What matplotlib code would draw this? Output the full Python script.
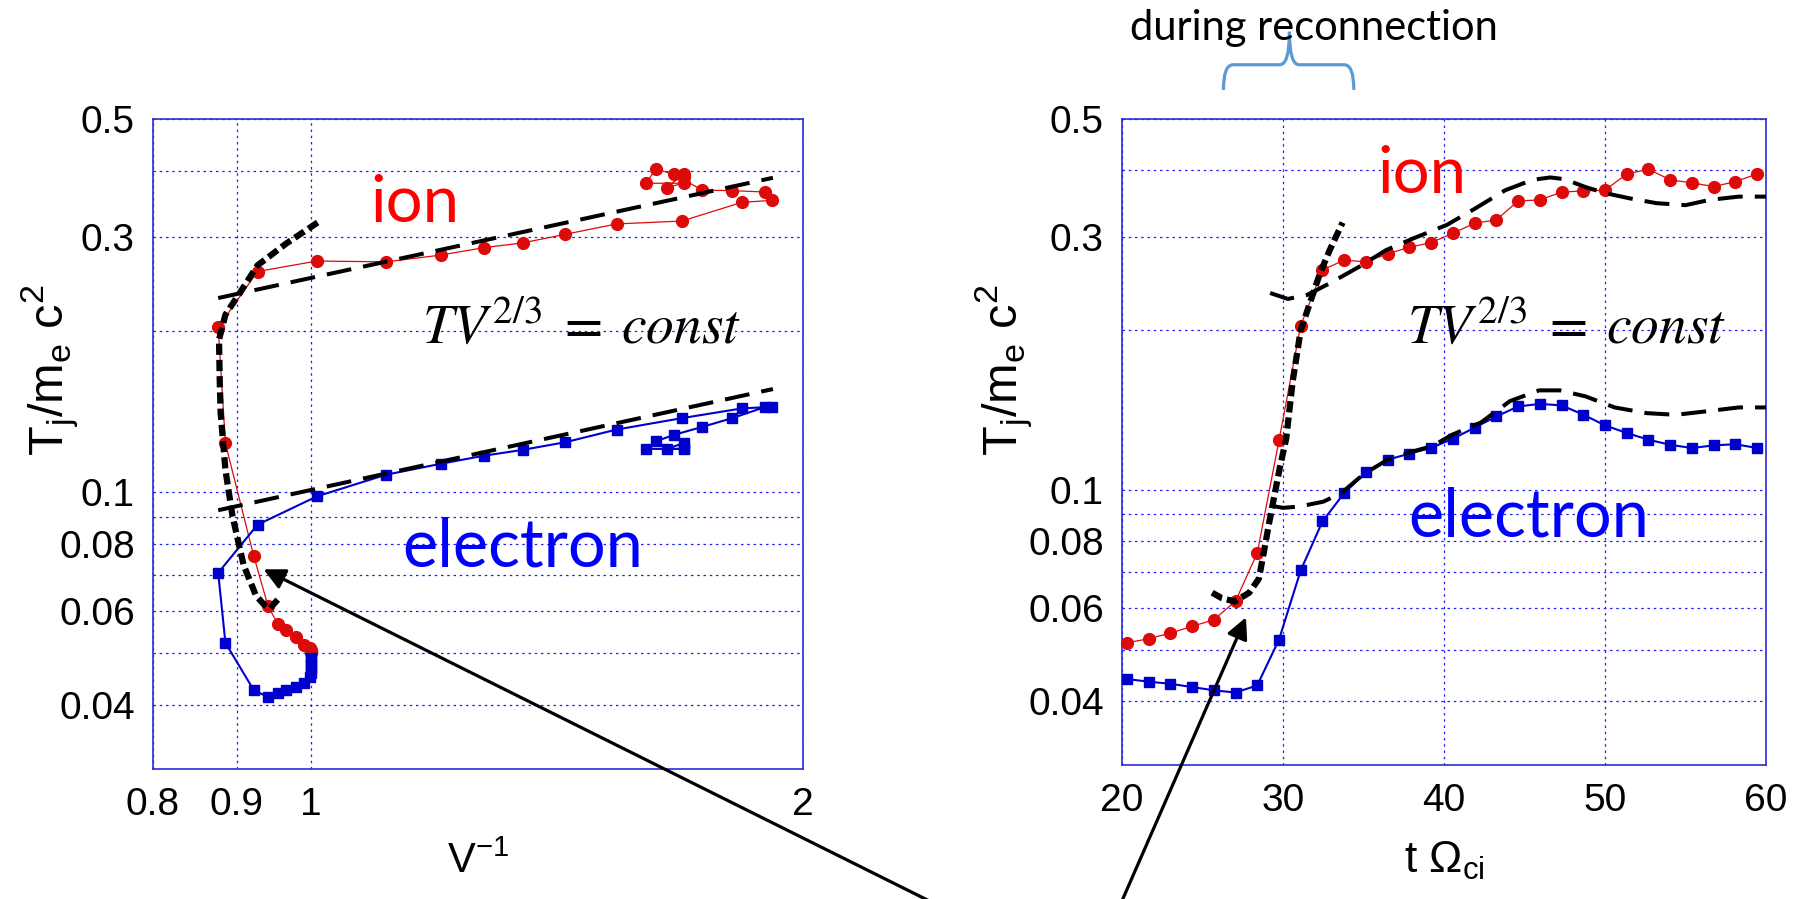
import numpy as np
import matplotlib
matplotlib.use("Agg")
import matplotlib.pyplot as plt
from matplotlib.ticker import FixedLocator, NullFormatter
from matplotlib.path import Path
from matplotlib.patches import PathPatch
import matplotlib.transforms as mtransforms

# ---- data ----
# left panel: T against V^-1 (first points sit at V^-1 = 1 before compression)
vinv = [1.0, 1.0, 1.0, 1.0, 1.0, 0.998, 0.99, 0.979, 0.965, 0.954, 0.941, 0.922,
        0.886, 0.877, 0.927, 1.008, 1.111, 1.2, 1.275, 1.347, 1.43, 1.538, 1.686,
        1.835, 1.914, 1.895, 1.81, 1.735, 1.667, 1.625, 1.603, 1.69, 1.65, 1.69, 1.69]
ion_left = [0.0499, 0.0501, 0.0503, 0.0505, 0.0507, 0.0510, 0.0517, 0.0535, 0.0553,
            0.0566, 0.0611, 0.0760, 0.1234, 0.2035, 0.259, 0.271, 0.270, 0.278, 0.287,
            0.293, 0.304, 0.318, 0.322, 0.349, 0.352, 0.365, 0.367, 0.368, 0.394,
            0.403, 0.379, 0.379, 0.372, 0.394, 0.390]
elec_left = [0.0490, 0.0482, 0.0474, 0.0466, 0.0458, 0.0450, 0.0440, 0.0432, 0.0426,
             0.0420, 0.0413, 0.0426, 0.0522, 0.0706, 0.0869, 0.0982, 0.1078, 0.113,
             0.117, 0.120, 0.124, 0.131, 0.1376, 0.1435, 0.1445, 0.1443, 0.1376,
             0.1325, 0.128, 0.1245, 0.1205, 0.1205, 0.1205, 0.1235, 0.121]

# adiabatic guide lines, left panel
ad_ion_left_x = [0.877, 1.917]
ad_ion_left_y = [0.231, 0.388]
ad_el_left_x = [0.877, 1.917]
ad_el_left_y = [0.0925, 0.156]
comp_left_x = [1.009, 0.965, 0.927, 0.904, 0.886, 0.878, 0.879, 0.880, 0.886, 0.895,
               0.909, 0.925, 0.935, 0.943, 0.956]
comp_left_y = [0.320, 0.292, 0.266, 0.236, 0.215, 0.193, 0.160, 0.141, 0.110, 0.090,
               0.073, 0.064, 0.0617, 0.0605, 0.0634]

# right panel: T against time
t = [20.3, 21.65, 23.0, 24.35, 25.7, 27.05, 28.4, 29.75, 31.1, 32.45, 33.8, 35.15,
     36.5, 37.85, 39.2, 40.55, 41.9, 43.25, 44.6, 45.95, 47.3, 48.65, 50.0, 51.35,
     52.7, 54.05, 55.4, 56.75, 58.1, 59.45]
ion_right = [0.0515, 0.0524, 0.0537, 0.0553, 0.0569, 0.0617, 0.0760, 0.1239, 0.204,
             0.2597, 0.271, 0.269, 0.2785, 0.2866, 0.2924, 0.3045, 0.318, 0.3227,
             0.3503, 0.352, 0.364, 0.366, 0.367, 0.394, 0.402, 0.384, 0.379, 0.373,
             0.381, 0.394]
elec_right = [0.0440, 0.0435, 0.0431, 0.0425, 0.0419, 0.0415, 0.0428, 0.0522, 0.0705,
              0.0872, 0.0986, 0.108, 0.114, 0.117, 0.120, 0.1248, 0.131, 0.1375,
              0.1436, 0.1452, 0.1443, 0.1386, 0.1323, 0.128, 0.1243, 0.1216, 0.1199,
              0.1213, 0.1219, 0.1199]

ad_ion_t = [29.2, 30.3, 31.5, 33.0, 34.7, 36.4, 38.0, 40.2, 42.0, 43.8, 45.5, 46.6,
            47.5, 48.8, 50.1, 51.6, 53.2, 55.0, 56.5, 58.3, 60.0]
ad_ion_y = [0.235, 0.229, 0.233, 0.246, 0.263, 0.283, 0.297, 0.316, 0.34, 0.367, 0.384,
            0.388, 0.385, 0.372, 0.362, 0.354, 0.347, 0.344, 0.352, 0.357, 0.357]
ad_el_t = [29.2, 30.0, 31.0, 32.5, 33.6, 35.0, 36.5, 38.0, 39.3, 40.5, 42.3, 44.1,
           45.9, 47.2, 48.8, 50.6, 52.6, 54.4, 56.2, 58.3, 60.0]
ad_el_y = [0.0934, 0.0925, 0.093, 0.095, 0.0985, 0.107, 0.114, 0.118, 0.121, 0.127,
           0.134, 0.147, 0.154, 0.154, 0.150, 0.143, 0.1395, 0.1385, 0.1405, 0.143, 0.143]
comp_t = [25.6, 26.2, 27.0, 27.9, 28.5, 28.8, 29.1, 29.4, 29.8, 30.2, 30.6, 31.1, 31.8,
          32.3, 32.9, 33.7]
comp_y = [0.064, 0.0625, 0.0616, 0.064, 0.068, 0.076, 0.0854, 0.0953, 0.11, 0.125, 0.16,
          0.2, 0.231, 0.256, 0.283, 0.319]

ytick_vals = [0.04, 0.06, 0.08, 0.1, 0.3, 0.5]
ytick_labels = ['0.04', '0.06', '0.08', '0.1', '0.3', '0.5']
ygrid_minor = [0.05, 0.07, 0.09, 0.2, 0.4]
xtick_left = [0.8, 0.9, 1, 2]
xtick_left_labels = ['0.8', '0.9', '1', '2']
xtick_right = [20, 30, 40, 50, 60]

# ---- style ----
RED = '#dd0a0a'
BLUE = '#0000cc'
GRID = '#2020ff'
narrow = ['Liberation Sans Narrow', 'Liberation Sans', 'DejaVu Sans']
plt.rcParams['font.family'] = narrow

fig = plt.figure(figsize=(18.03, 8.99), dpi=100)
W, H = 1803.0, 899.0
ax1 = fig.add_axes([153 / W, 1 - 769 / H, 650 / W, 650 / H])
ax2 = fig.add_axes([1122 / W, 1 - 765 / H, 644 / W, 646 / H])

thin_dash = dict(color='k', lw=2.9, ls=(0, (6.2, 3.0)), zorder=4)
thick_dash = dict(color='k', lw=4.5, ls=(0, (1.8, 0.8)), zorder=4)


def style_axes(ax):
    ax.set_yscale('log')
    ax.set_ylim(0.0303, 0.5)
    ax.yaxis.set_major_locator(FixedLocator(ytick_vals))
    ax.yaxis.set_minor_locator(FixedLocator(ygrid_minor))
    ax.set_yticklabels(ytick_labels)
    ax.yaxis.set_minor_formatter(NullFormatter())
    ax.tick_params(which='both', length=0, labelsize=28, pad=13)
    ax.grid(True, which='both', color=GRID, ls=(0, (2, 3)), lw=0.9)
    for s in ax.spines.values():
        s.set_color('#2a2ad8')
        s.set_linewidth(1.2)
    ax.set_axisbelow(True)


# left panel
style_axes(ax1)
ax1.set_xscale('log')
ax1.set_xlim(0.8, 2)
ax1.xaxis.set_major_locator(FixedLocator(xtick_left))
ax1.xaxis.set_minor_locator(FixedLocator([]))
ax1.set_xticklabels(xtick_left_labels)
ax1.xaxis.set_minor_formatter(NullFormatter())
ax1.plot(vinv, ion_left, '-o', color=RED, lw=0.9, ms=8.5, zorder=3)
ax1.plot(vinv, elec_left, '-s', color=BLUE, lw=1.5, ms=7.5, zorder=3)
ax1.plot(ad_ion_left_x, ad_ion_left_y, **thin_dash)
ax1.plot(ad_el_left_x, ad_el_left_y, **thin_dash)
ax1.plot(comp_left_x, comp_left_y, **thick_dash)

# right panel
style_axes(ax2)
ax2.set_xlim(20, 60)
ax2.xaxis.set_major_locator(FixedLocator(xtick_right))
ax2.plot(t, ion_right, '-o', color=RED, lw=0.9, ms=8.5, zorder=3, clip_on=False)
ax2.plot(t, elec_right, '-s', color=BLUE, lw=1.5, ms=7.5, zorder=3, clip_on=False)
ax2.plot(ad_ion_t, ad_ion_y, **thin_dash)
ax2.plot(ad_el_t, ad_el_y, **thin_dash)
ax2.plot(comp_t, comp_y, **thick_dash)

# labels
ylab = r'T$_\mathregular{j}$/m$_\mathregular{e}$ c$^\mathregular{2}$'
for xp in (50, 1004):
    fig.text(xp / W, 1 - 370 / H, ylab, rotation=90, ha='center', va='center',
             fontsize=35, family=['Liberation Sans', 'DejaVu Sans'])
fig.text(478 / W, 1 - 873 / H, r'V$^\mathregular{-1}$', ha='center', va='baseline',
         fontsize=30)
fig.text(1444 / W, 1 - 873 / H, r't Ω$_\mathregular{ci}$', ha='center',
         va='baseline', fontsize=32)

lato = ['Lato', 'DejaVu Sans']
ax1.text(0.334, 0.8415, 'ion', transform=ax1.transAxes, color='red', fontsize=47,
         family=lato, va='baseline')
ax1.text(0.383, 0.311, 'electron', transform=ax1.transAxes, color='blue', fontsize=48,
         family=lato, va='baseline')
ax2.text(0.396, 0.8854, 'ion', transform=ax2.transAxes, color='red', fontsize=47,
         family=lato, va='baseline')
ax2.text(0.444, 0.353, 'electron', transform=ax2.transAxes, color='blue', fontsize=48,
         family=lato, va='baseline')
formula = r'$TV^{2/3}\;=\;const$'
ax1.text(0.414, 0.655, formula, transform=ax1.transAxes, fontsize=40,
         math_fontfamily='stix', va='baseline')
ax2.text(0.4425, 0.653, formula, transform=ax2.transAxes, fontsize=40,
         math_fontfamily='stix', va='baseline')

fig.text(1314 / W, 1 - 28 / H, 'during reconnection', ha='center', va='center',
         fontsize=30, family=lato)

# brace over the reconnection interval
tr = mtransforms.blended_transform_factory(ax2.transData, ax2.transAxes)
xL, xM, xR = 26.3, 30.4, 34.4
y0, y1, y2 = 1.045, 1.084, 1.135
verts = [(xL, y0), (xL, y1), (xL + 0.6, y1), (xM - 0.6, y1), (xM, y1), (xM, y2),
         (xM, y1), (xM + 0.6, y1), (xR - 0.6, y1), (xR, y1), (xR, y0)]
codes = [Path.MOVETO, Path.CURVE3, Path.CURVE3, Path.LINETO, Path.CURVE3, Path.CURVE3,
         Path.CURVE3, Path.CURVE3, Path.LINETO, Path.CURVE3, Path.CURVE3]
brace = PathPatch(Path(verts, codes), transform=tr, fill=False, edgecolor='#5b9bd5',
                  lw=2.3, clip_on=False)
ax2.add_patch(brace)

# arrows pointing at the compression phase
arrow = dict(arrowstyle='-|>', lw=2.3, color='k', mutation_scale=32, shrinkA=0,
             shrinkB=0)
ax1.annotate('', xy=(0.935, 0.0717), xycoords='data', xytext=(929 / W, -0.002),
             textcoords='figure fraction', arrowprops=arrow, annotation_clip=False)
ax2.annotate('', xy=(27.7, 0.0575), xycoords='data', xytext=(1122 / W, -0.002),
             textcoords='figure fraction', arrowprops=arrow, annotation_clip=False)

fig.savefig('out.png', dpi=100)
